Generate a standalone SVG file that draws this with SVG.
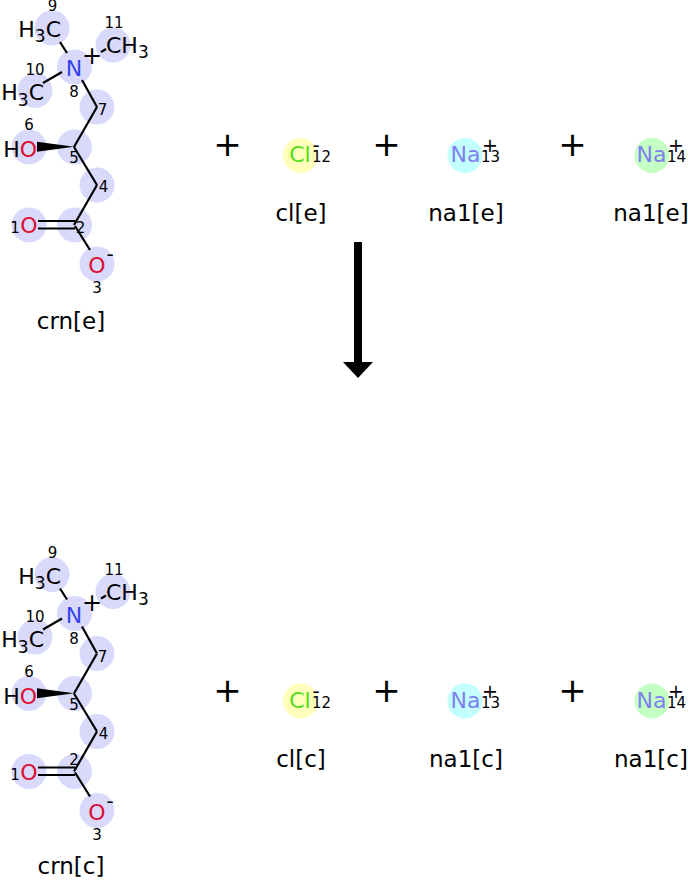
<svg xmlns="http://www.w3.org/2000/svg" width="688" height="880" viewBox="0 0 688 880">
<style>
text{font-family:"DejaVu Sans","Liberation Sans",sans-serif;fill:#000}
.hl{fill:#d9d9fc}
.at{font-size:22px}
.n{font-size:15px;text-anchor:middle}
.ns{font-size:15px}
.lab{font-size:23px;text-anchor:middle}
.big{font-size:34px;text-anchor:middle}
.bond{stroke:#000;stroke-width:2.2;fill:none;stroke-linecap:butt}
.N{fill:#3344ee}
.O{fill:#dd1133}
.Cl{fill:#55dd1a}
.Na{fill:#7f80ee}
</style>
<defs>
<g id="crnmol">
<circle class="hl" cx="52" cy="28" r="17.5"/>
<circle class="hl" cx="113" cy="45" r="17.5"/>
<circle class="hl" cx="74.5" cy="67" r="17.5"/>
<circle class="hl" cx="35" cy="90.5" r="17.5"/>
<circle class="hl" cx="97" cy="107" r="17.5"/>
<circle class="hl" cx="29" cy="147" r="17.5"/>
<circle class="hl" cx="74.5" cy="147" r="17.5"/>
<circle class="hl" cx="97" cy="185" r="17.5"/>
<circle class="hl" cx="74.5" cy="225" r="17.5"/>
<circle class="hl" cx="29" cy="225" r="17.5"/>
<circle class="hl" cx="97" cy="264" r="17.5"/>
<g class="bonds">
<line class="bond" x1="60" y1="42" x2="67" y2="53"/>
<line class="bond" x1="43" y1="83" x2="62" y2="72"/>
<line class="bond" x1="101" y1="52" x2="106" y2="49"/>
<line class="bond" x1="82" y1="80" x2="97" y2="107"/>
<line class="bond" x1="97" y1="107" x2="74" y2="147"/>
<line class="bond" x1="74" y1="147" x2="97" y2="185"/>
<line class="bond" x1="97" y1="185" x2="74" y2="225"/>
<line class="bond" x1="75" y1="226" x2="90" y2="250"/>
<line class="bond" x1="38" y1="221" x2="75" y2="221"/>
<line class="bond" x1="38" y1="228.5" x2="75" y2="228.5"/>
<polygon points="37,141.7 37,151.7 74,146.7" fill="#000"/>
</g>
<text class="at" x="61" y="37" text-anchor="end">H<tspan font-size="17" dy="5">3</tspan><tspan dy="-5">C</tspan></text>
<text class="at" x="106" y="53">CH<tspan font-size="17" dy="5">3</tspan></text>
<text class="at" x="44" y="100" text-anchor="end">H<tspan font-size="17" dy="6">3</tspan><tspan dy="-6">C</tspan></text>
<text class="at N" x="74" y="76" text-anchor="middle">N</text>
<text x="92" y="64" font-size="24" text-anchor="middle">+</text>
<text class="at" x="37" y="157" text-anchor="end">H<tspan class="O">O</tspan></text>
<text class="at O" x="29" y="233" text-anchor="middle">O</text>
<text class="at O" x="97" y="273" text-anchor="middle">O</text>
<text x="110" y="261" font-size="20" text-anchor="middle">-</text>
<text class="n" x="52.5" y="11">9</text>
<text class="n" x="114" y="28">11</text>
<text class="n" x="35" y="75">10</text>
<text class="n" x="74" y="97">8</text>
<text class="n" x="102.5" y="115">7</text>
<text class="n" x="29" y="130">6</text>
<text class="n" x="74" y="163">5</text>
<text class="n" x="103.5" y="192">4</text>
<text class="n" x="15" y="233">1</text>
<text class="n" x="97" y="293">3</text>
</g>
<g id="ions">
<text class="big" x="227.5" y="156">+</text>
<text class="big" x="386.5" y="156">+</text>
<text class="big" x="572.5" y="156">+</text>
<circle cx="300.5" cy="155.5" r="17.5" fill="#ffffbb"/>
<text class="at Cl" x="300" y="162" text-anchor="middle">Cl</text>
<text x="316" y="152" font-size="20" text-anchor="middle">-</text>
<text class="ns" x="312" y="162">12</text>
<circle cx="465" cy="155.5" r="17.5" fill="#c4ffff"/>
<text class="at Na" x="465.5" y="162" text-anchor="middle">Na</text>
<text x="490" y="152" font-size="19" text-anchor="middle">+</text>
<text class="ns" x="481" y="162">13</text>
<circle cx="652" cy="155.5" r="17.5" fill="#c4ffc4"/>
<text class="at Na" x="651.5" y="162" text-anchor="middle">Na</text>
<text x="676" y="152" font-size="19" text-anchor="middle">+</text>
<text class="ns" x="667" y="162">14</text>
</g>
</defs>

<g id="crn_e">
<use href="#crnmol"/>
<text class="n" x="80.5" y="233">2</text>
<text class="lab" x="71" y="329">crn[e]</text>
</g>
<g id="ions_e">
<use href="#ions"/>
<text class="lab" x="301" y="221">cl[e]</text>
<text class="lab" x="466" y="221">na1[e]</text>
<text class="lab" x="651" y="221">na1[e]</text>
</g>

<g id="connectors">
<rect x="354" y="242" width="8" height="121" fill="#000"/>
<polygon points="343,362 373,362 358,378" fill="#000"/>
</g>

<g id="crn_c">
<use href="#crnmol" y="546.5"/>
<text class="n" x="74" y="765">2</text>
<text class="lab" x="71" y="874">crn[c]</text>
</g>
<g id="ions_c">
<use href="#ions" y="545.5"/>
<text class="lab" x="301" y="766.5">cl[c]</text>
<text class="lab" x="466" y="766.5">na1[c]</text>
<text class="lab" x="651" y="766.5">na1[c]</text>
</g>
</svg>
